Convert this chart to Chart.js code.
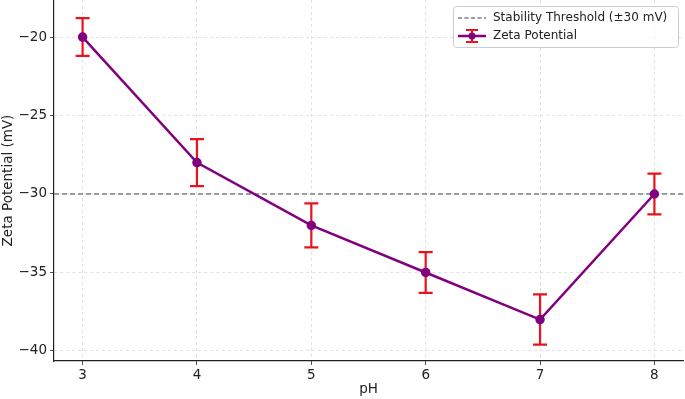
<!DOCTYPE html>
<html>
<head>
<meta charset="utf-8">
<script src="https://cdn.jsdelivr.net/npm/chart.js@4.4.1/dist/chart.umd.min.js"></script>
<style>
  html, body { margin: 0; padding: 0; background: #fff; }
  #wrap { width: 685px; height: 399px; }
</style>
</head>
<body>
<div id="wrap"><canvas id="zetaChart" width="685" height="399"></canvas></div>
<script>
// datos
const phValues = [3, 4, 5, 6, 7, 8];
const zetaValues = [-20, -28, -32, -35, -38, -30];
const zetaErrors = [1.2, 1.5, 1.4, 1.3, 1.6, 1.3];
const xTicks = [3, 4, 5, 6, 7, 8];
const yTicks = [-40, -35, -30, -25, -20];
const threshold = -30;

const FONT = 'DejaVu Sans';
const minus = v => String(v).replace('-', '\u2212');

// barras de error + linea umbral, antes de dibujar la serie
const errorBars = {
    id: 'errorBars',
    beforeDatasetsDraw(chart) {
        const { ctx, chartArea, scales: { x, y } } = chart;
        ctx.save();
        // umbral de estabilidad
        const ty = y.getPixelForValue(threshold);
        ctx.strokeStyle = '#808080';
        ctx.lineWidth = 1.3;
        ctx.setLineDash([5, 3]);
        ctx.beginPath();
        ctx.moveTo(chartArea.left, ty);
        ctx.lineTo(chartArea.right + 2, ty);
        ctx.stroke();
        ctx.setLineDash([]);
        // error
        ctx.strokeStyle = '#e8141c';
        ctx.lineWidth = 2.2;
        phValues.forEach((ph, i) => {
            const px = x.getPixelForValue(ph);
            const top = y.getPixelForValue(zetaValues[i] + zetaErrors[i]);
            const bot = y.getPixelForValue(zetaValues[i] - zetaErrors[i]);
            ctx.beginPath();
            ctx.moveTo(px, top); ctx.lineTo(px, bot);
            ctx.moveTo(px - 7, top); ctx.lineTo(px + 7, top);
            ctx.moveTo(px - 7, bot); ctx.lineTo(px + 7, bot);
            ctx.stroke();
        });
        ctx.restore();
    }
};

// leyenda dentro del area, arriba a la derecha
const boxLegend = {
    id: 'boxLegend',
    afterDraw(chart) {
        const { ctx, chartArea } = chart;
        const w = 225, h = 41;
        const bx = chartArea.right - w - 5, by = chartArea.top + 6;
        ctx.save();
        ctx.fillStyle = 'rgba(255,255,255,0.8)';
        ctx.strokeStyle = '#cccccc';
        ctx.lineWidth = 1;
        ctx.beginPath();
        ctx.roundRect(bx + 0.5, by + 0.5, w, h, 3);
        ctx.fill();
        ctx.stroke();

        ctx.font = '12px ' + FONT;
        ctx.fillStyle = '#222';
        ctx.textBaseline = 'middle';
        // fila 1
        const y1 = by + 12;
        ctx.strokeStyle = '#808080';
        ctx.lineWidth = 1.3;
        ctx.setLineDash([4, 2.5]);
        ctx.beginPath();
        ctx.moveTo(bx + 5, y1); ctx.lineTo(bx + 33, y1);
        ctx.stroke();
        ctx.setLineDash([]);
        ctx.fillText('Stability Threshold (\u00b130 mV)', bx + 40, y1);
        // fila 2
        const y2 = by + 30;
        const cx = bx + 19;
        ctx.strokeStyle = '#e8141c';
        ctx.lineWidth = 2.2;
        ctx.beginPath();
        ctx.moveTo(cx, y2 - 6); ctx.lineTo(cx, y2 + 6);
        ctx.moveTo(cx - 6, y2 - 6); ctx.lineTo(cx + 6, y2 - 6);
        ctx.moveTo(cx - 6, y2 + 6); ctx.lineTo(cx + 6, y2 + 6);
        ctx.stroke();
        ctx.strokeStyle = '#800080';
        ctx.lineWidth = 2.5;
        ctx.beginPath();
        ctx.moveTo(bx + 5, y2); ctx.lineTo(bx + 33, y2);
        ctx.stroke();
        ctx.fillStyle = '#800080';
        ctx.beginPath();
        ctx.arc(cx, y2, 3.5, 0, Math.PI * 2);
        ctx.fill();
        ctx.fillStyle = '#222';
        ctx.fillText('Zeta Potential', bx + 40, y2);
        ctx.restore();
    }
};

const gridOpts = {
    color: '#d9d9d9',
    tickColor: '#222',
    tickLength: 4,
    tickBorderDash: [],
    lineWidth: 0.8
};

// quitar el relleno automatico de los ejes
const noPad = s => {
    s.paddingTop = 0; s.paddingBottom = 0;
    s.paddingLeft = 0; s.paddingRight = 0;
};

const ctx = document.getElementById('zetaChart').getContext('2d');

new Chart(ctx, {
    type: 'line',
    data: {
        datasets: [{
            label: 'Zeta Potential',
            data: phValues.map((ph, i) => ({ x: ph, y: zetaValues[i] })),
            borderColor: '#800080',
            backgroundColor: '#800080',
            borderWidth: 2.5,
            pointRadius: 3.5,
            pointHoverRadius: 3.5,
            tension: 0
        }]
    },
    options: {
        responsive: false,
        animation: false,
        layout: { autoPadding: false, padding: { top: 0, left: 0, bottom: 0, right: 2 } },
        plugins: {
            legend: { display: false },
            tooltip: { enabled: false }
        },
        scales: {
            x: {
                type: 'linear',
                min: 2.75,
                max: 8.25,
                afterBuildTicks: s => { s.ticks = xTicks.map(v => ({ value: v })); },
                afterFit: s => { s.height = 38; noPad(s); },
                border: { display: true, color: '#222', width: 1.2, dash: [3, 3] },
                grid: gridOpts,
                ticks: {
                    color: '#222',
                    font: { family: FONT, size: 13.5 },
                    padding: 2,
                    maxRotation: 0
                },
                title: {
                    display: true,
                    text: 'pH',
                    color: '#222',
                    font: { family: FONT, size: 13.5 },
                    padding: { top: 0, bottom: 1 }
                }
            },
            y: {
                min: -40.64,
                max: -17.64,
                afterBuildTicks: s => { s.ticks = yTicks.map(v => ({ value: v })); },
                afterFit: s => { s.width = 54; noPad(s); },
                border: { display: true, color: '#222', width: 1.2, dash: [3, 3] },
                grid: gridOpts,
                ticks: {
                    color: '#222',
                    font: { family: FONT, size: 13.5 },
                    padding: 3,
                    callback: v => minus(v)
                },
                title: {
                    display: true,
                    text: 'Zeta Potential (mV)',
                    color: '#222',
                    font: { family: FONT, size: 13.5 },
                    padding: { top: 0, bottom: 1 }
                }
            }
        }
    },
    plugins: [errorBars, boxLegend]
});
</script>
</body>
</html>
